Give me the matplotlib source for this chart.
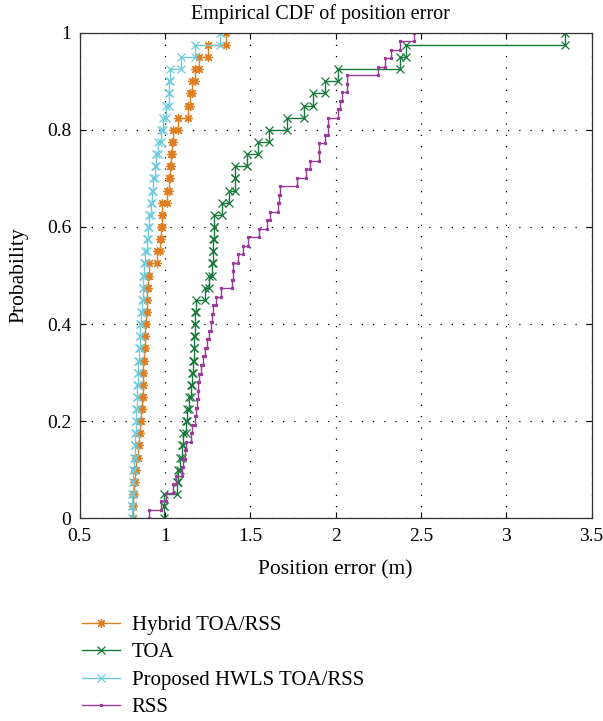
import numpy as np
import matplotlib
matplotlib.use('Agg')
import matplotlib.pyplot as plt

plt.rcParams['font.family'] = ['Liberation Serif', 'DejaVu Serif']
plt.rcParams['font.size'] = 14

# sorted position errors (m)
hybrid = [0.812, 0.815, 0.819, 0.825, 0.831, 0.845, 0.851, 0.855, 0.859, 0.865,
          0.870, 0.871, 0.874, 0.878, 0.884, 0.885, 0.890, 0.894, 0.897, 0.903,
          0.909, 0.956, 0.971, 0.976, 0.980, 0.982, 1.011, 1.021, 1.027, 1.035,
          1.041, 1.050, 1.079, 1.138, 1.148, 1.158, 1.177, 1.200, 1.255, 1.359]
toa = [0.995, 0.995, 1.073, 1.079, 1.089, 1.103, 1.108, 1.123, 1.132, 1.144,
       1.152, 1.159, 1.164, 1.169, 1.171, 1.175, 1.179, 1.183, 1.236, 1.261,
       1.275, 1.281, 1.284, 1.288, 1.290, 1.337, 1.378, 1.410, 1.412, 1.480,
       1.545, 1.611, 1.715, 1.816, 1.870, 1.939, 2.017, 2.379, 2.414, 3.346]
hwls = [0.806, 0.808, 0.812, 0.815, 0.819, 0.823, 0.827, 0.831, 0.833, 0.835,
        0.839, 0.843, 0.845, 0.849, 0.853, 0.855, 0.859, 0.865, 0.870, 0.874,
        0.878, 0.886, 0.894, 0.903, 0.909, 0.917, 0.923, 0.933, 0.943, 0.948,
        0.958, 0.976, 0.988, 1.007, 1.021, 1.026, 1.031, 1.095, 1.177, 1.324]
rss = [0.909, 0.976, 1.007, 1.050, 1.066, 1.099, 1.108, 1.118, 1.124, 1.152,
       1.158, 1.177, 1.183, 1.187, 1.193, 1.196, 1.202, 1.210, 1.226, 1.232,
       1.249, 1.261, 1.269, 1.275, 1.284, 1.300, 1.328, 1.392, 1.398, 1.400,
       1.431, 1.457, 1.489, 1.554, 1.597, 1.617, 1.665, 1.667, 1.675, 1.773,
       1.828, 1.851, 1.900, 1.902, 1.939, 1.953, 1.955, 2.017, 2.027, 2.037,
       2.066, 2.068, 2.251, 2.287, 2.326, 2.379, 2.461]

series = [
    ('Hybrid TOA/RSS', hybrid, '#e07e22', (8, 2, 0), 6.5),
    ('TOA', toa, '#16793a', 'x', 5.5),
    ('Proposed HWLS TOA/RSS', hwls, '#6fcbdc', 'x', 5.5),
    ('RSS', rss, '#9a3b9c', 's', 2),
]


def stairs(vals):
    x = np.sort(np.asarray(vals))
    n = len(x)
    f = np.arange(n + 1) / n
    xs = np.repeat(x, 2)
    ys = np.empty(2 * n)
    ys[0::2] = f[:-1]
    ys[1::2] = f[1:]
    return xs, ys


fig = plt.figure(figsize=(6.03, 7.21), dpi=100)
ax = fig.add_axes([0.132, 0.2811, 0.849, 0.6735])

for name, vals, col, mk, ms in series:
    xs, ys = stairs(vals)
    ax.plot(xs, ys, color=col, lw=1.0, marker=mk, ms=ms, mew=0.9,
            mfc=col, mec=col, label=name)

ax.set_xlim(0.5, 3.5)
ax.set_ylim(0, 1)
ax.set_xticks([0.5, 1, 1.5, 2, 2.5, 3, 3.5])
ax.set_xticklabels(['0.5', '1', '1.5', '2', '2.5', '3', '3.5'])
ax.set_yticks([0, 0.2, 0.4, 0.6, 0.8, 1])
ax.set_yticklabels(['0', '0.2', '0.4', '0.6', '0.8', '1'])
ax.tick_params(direction='in', top=True, right=True, length=4, width=0.8,
               labelsize=14)
ax.tick_params(axis='x', pad=7)
ax.tick_params(axis='y', pad=6)
ax.grid(True, color='black', linestyle=(0, (1, 8)), linewidth=0.9)
for s in ax.spines.values():
    s.set_linewidth(0.9)
    s.set_color('#333333')

ax.set_title('Empirical CDF of position error', fontsize=14.5, pad=10, x=0.47)
ax.set_xlabel('Position error (m)', fontsize=15.5, labelpad=11)
ax.set_ylabel('Probability', fontsize=15.5, labelpad=13)

fig.legend(loc='upper left', bbox_to_anchor=(0.118, 0.161), frameon=False,
           borderpad=0, handlelength=1.85, handletextpad=0.55, labelspacing=0.38,
           fontsize=15)

fig.savefig('out.png', dpi=100)
